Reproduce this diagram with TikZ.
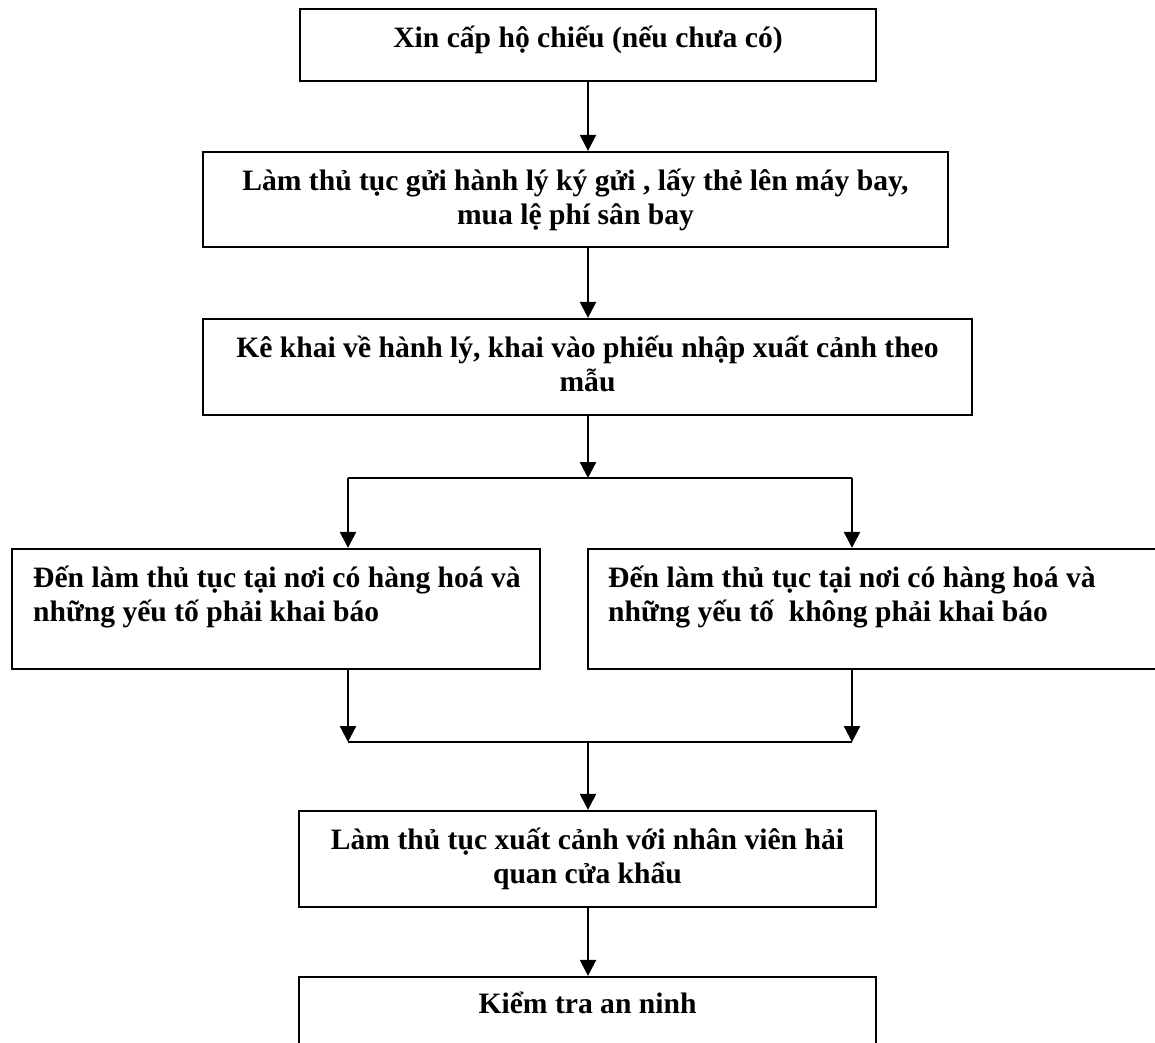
\documentclass[tikz,border=0pt]{standalone}
\usepackage{fontspec}
\setmainfont{Liberation Serif}
\usetikzlibrary{arrows.meta}
\begin{document}
\begin{tikzpicture}[x=1pt,y=-1pt,
  box/.style={draw=black,line width=2.2pt,rectangle,inner sep=0pt},
  txt/.style={inner sep=0pt,font=\fontsize{29.6}{34}\selectfont\bfseries},
  arr/.style={line width=2.2pt,-{Triangle[length=16pt,width=16pt]}},
  wire/.style={line width=2.2pt}]
\useasboundingbox (0,0) rectangle (1155,1042);
\clip (0,0) rectangle (1155,1042);
\fill[white] (0,0) rectangle (1155,1042);

% process boxes
\node[box,minimum width=576pt,minimum height=72pt] (b1) at (588,45) {};
\node[box,minimum width=745pt,minimum height=95pt] (b2) at (575.5,199.5) {};
\node[box,minimum width=769pt,minimum height=96pt] (b3) at (587.5,367) {};
\node[box,minimum width=528pt,minimum height=120pt] (b4) at (276,609) {};
\node[box,minimum width=580pt,minimum height=120pt] (b5) at (878,609) {};
\node[box,minimum width=577pt,minimum height=96pt] (b6) at (587.5,859) {};
\node[box,minimum width=577pt,minimum height=90pt] (b7) at (587.5,1022) {};

% box texts (anchored on the baseline of the last line)
\node[txt,anchor=base] (t1) at (588,47) {Xin cấp hộ chiếu (nếu chưa có)};
\node[txt,anchor=base,align=center] (t2) at (575.5,224) {Làm thủ tục gửi hành lý ký gửi , lấy thẻ lên máy bay,\\mua lệ phí sân bay};
\node[txt,anchor=base,align=center] (t3) at (587.5,391) {Kê khai về hành lý, khai vào phiếu nhập xuất cảnh theo\\mẫu};
\node[txt,anchor=base west,align=left] (t4) at (33,621) {Đến làm thủ tục tại nơi có hàng hoá và\\những yếu tố phải khai báo};
\node[txt,anchor=base west,align=left] (t5) at (608,621) {Đến làm thủ tục tại nơi có hàng hoá và\\những yếu tố\ \ không phải khai báo};
\node[txt,anchor=base,align=center] (t6) at (587.5,883) {Làm thủ tục xuất cảnh với nhân viên hải\\quan cửa khẩu};
\node[txt,anchor=base] (t7) at (587.5,1013) {Kiểm tra an ninh};

% junction points
\coordinate (split) at (588,478);
\coordinate (splitL) at (348,478);
\coordinate (splitR) at (852,478);
\coordinate (mergeL) at (348,742);
\coordinate (mergeR) at (852,742);
\coordinate (merge) at (588,742);

% connectors
\draw[arr] (b1.south) -- (b1.south |- b2.north);
\draw[arr] (split |- b2.south) -- (split |- b3.north);
\draw[arr] (split |- b3.south) -- (split);
\draw[wire] (splitL) -- (splitR);
\draw[arr] (splitL) -- (splitL |- b4.north);
\draw[arr] (splitR) -- (splitR |- b5.north);
\draw[arr] (splitL |- b4.south) -- (mergeL);
\draw[arr] (splitR |- b5.south) -- (mergeR);
\draw[wire] (mergeL) -- (mergeR);
\draw[arr] (merge) -- (merge |- b6.north);
\draw[arr] (merge |- b6.south) -- (merge |- b7.north);
\end{tikzpicture}
\end{document}
